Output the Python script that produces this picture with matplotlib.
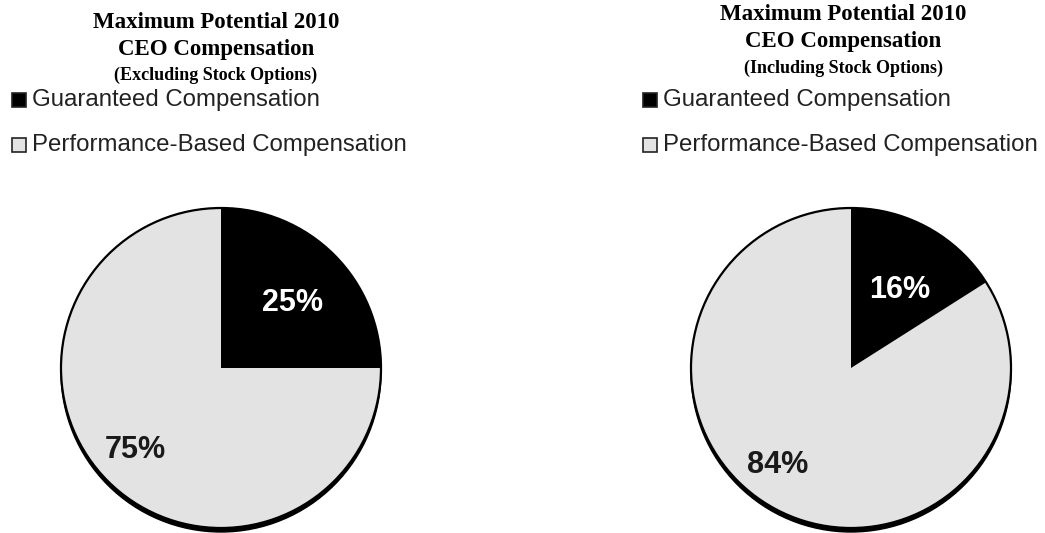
import matplotlib
matplotlib.use("Agg")
import numpy as np
import matplotlib.pyplot as plt
from matplotlib.patches import Circle, Rectangle

W, H = 1045, 533

# Data
categories = ["Guaranteed Compensation", "Performance-Based Compensation"]
excl_values = [25, 75]
incl_values = [16, 84]
title_lines_left = ["Maximum Potential 2010", "CEO Compensation", "(Excluding Stock Options)"]
title_lines_right = ["Maximum Potential 2010", "CEO Compensation", "(Including Stock Options)"]

colors = ["#000000", "#e3e3e3"]
label_colors = ["white", "#1a1a1a"]

fig = plt.figure(figsize=(W / 100, H / 100), dpi=100)
ax = fig.add_axes([0, 0, 1, 1])


def py(y):
    """Convert a top-down pixel row into the axes' bottom-up coordinate."""
    return H - y


def draw_panel(values, cx, cy, r, title_lines, title_x, title_ys, leg_x, label_pos):
    center = (cx, py(cy))
    # drop shadow below the disc
    ax.add_patch(Circle((cx, py(cy) - 4), r, color="black", zorder=1))
    wedges, _ = ax.pie(values, colors=colors, startangle=90, counterclock=False,
                       center=center, radius=r, frame=True,
                       wedgeprops=dict(linewidth=0))
    for w in wedges:
        w.set_zorder(2)
    ax.add_patch(Circle(center, r, fill=False, edgecolor="black", lw=1.6, zorder=3))

    # percentage labels placed along each wedge
    start = 90.0
    total = float(sum(values))
    for i, v in enumerate(values):
        sweep = 360.0 * v / total
        mid = start - sweep / 2
        start -= sweep
        dang, frac = label_pos[i]
        a = np.deg2rad(mid + dang)
        x = cx + frac * r * np.cos(a)
        y = py(cy) + frac * r * np.sin(a)
        ax.text(x, y, f"{v}%", ha="center", va="center", fontsize=22,
                fontweight="bold", family="Liberation Sans", color=label_colors[i],
                zorder=4)

    # titles
    sizes = [16.5, 16.5, 13]
    for line, ty, fs in zip(title_lines, title_ys, sizes):
        ax.text(title_x, py(ty), line, ha="center", va="center", fontsize=fs,
                fontweight="bold", family="Liberation Serif", color="black", zorder=5)

    # legend
    for i, cat in enumerate(categories):
        ry = 100 + 45 * i
        ax.add_patch(Rectangle((leg_x, py(ry) - 7), 14, 14,
                               facecolor=colors[i], edgecolor="#222222", lw=1.2, zorder=5))
        ax.text(leg_x + 20, py(ry), cat, ha="left", va="center", fontsize=17.3,
                family="Liberation Sans", color="#222222", zorder=5)


draw_panel(excl_values, 221, 368, 160, title_lines_left, 216, [23, 50, 75], 12,
           [(-2.9, 0.606), (-1.4, 0.74)])
draw_panel(incl_values, 851, 368, 160, title_lines_right, 843, [15, 42, 68], 643,
           [(-3.3, 0.575), (-8.5, 0.76)])

ax.set_xlim(0, W)
ax.set_ylim(0, H)
ax.set_aspect("equal")
ax.axis("off")

fig.savefig("out.png", dpi=100)
